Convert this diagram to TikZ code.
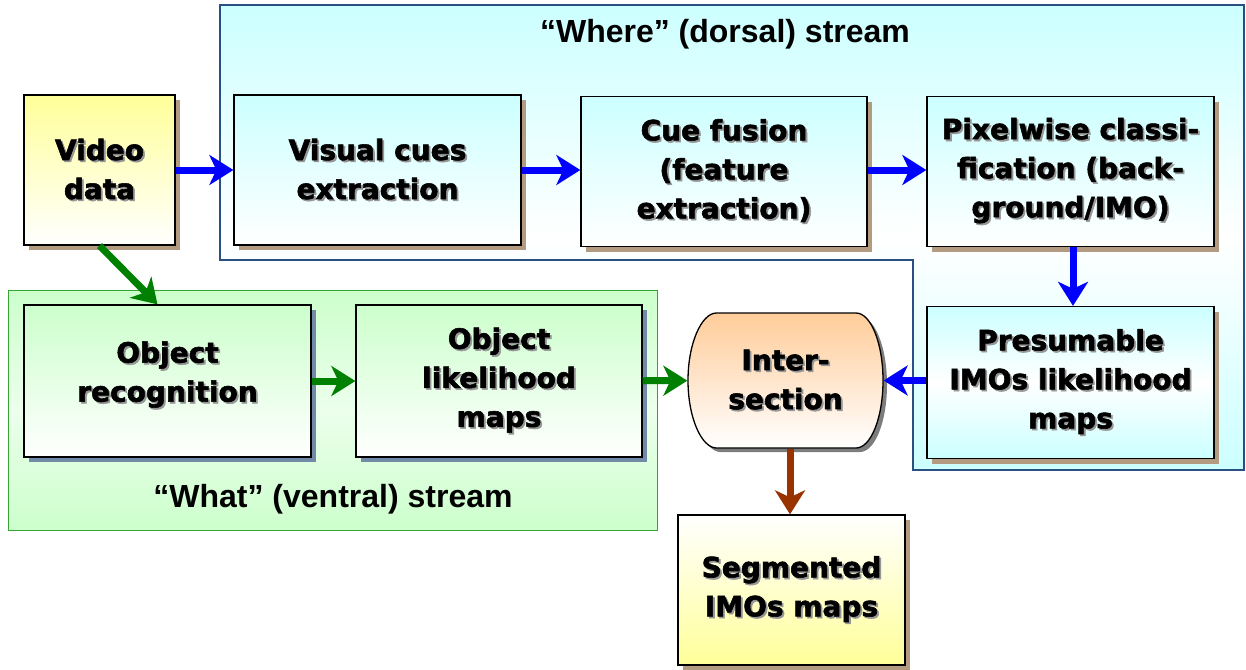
\documentclass[tikz,border=0pt]{standalone}
\usepackage{fontspec}
\usetikzlibrary{arrows.meta,shadows}
\newfontfamily\boxfont{DejaVu Sans}[BoldFeatures={FakeBold=2}]
\newfontfamily\labfont{Liberation Sans}

\definecolor{cyanT}{RGB}{204,255,255}
\definecolor{yellowT}{RGB}{255,255,153}
\definecolor{greenT}{RGB}{204,255,204}
\definecolor{greenM}{RGB}{236,255,236}
\definecolor{orangeT}{RGB}{255,204,153}
\definecolor{shtan}{RGB}{178,155,128}
\definecolor{shblue}{RGB}{112,138,168}
\definecolor{shgray}{RGB}{125,125,125}
\definecolor{txtshadow}{RGB}{150,150,150}
\definecolor{dorsalline}{RGB}{40,80,130}
\definecolor{ventralline}{RGB}{50,165,50}
\definecolor{flowblue}{RGB}{0,0,255}
\definecolor{flowgreen}{RGB}{0,128,0}
\definecolor{flowbrown}{RGB}{153,51,0}

% one line of box text with a soft grey copy behind it
\newcommand\sh[1]{\leavevmode\rlap{\kern1.8pt\raisebox{-1.8pt}{\textcolor{txtshadow}{#1}}}#1}

\tikzset{
  box/.style={draw=black, line width=1.3pt, minimum height=150pt,
    align=center, inner sep=0pt,
    font=\boxfont\bfseries\fontsize{28}{39}\selectfont},
  tanshadow/.style={drop shadow={shadow xshift=5pt, shadow yshift=-5pt,
    fill=shtan, opacity=1}},
  blueshadow/.style={drop shadow={shadow xshift=5pt, shadow yshift=-5pt,
    fill=shblue, opacity=1}},
  dorsalbox/.style={box, tanshadow, top color=cyanT, bottom color=white},
  stream/.style={font=\labfont\bfseries\fontsize{32}{38}\selectfont,
    inner sep=0pt, anchor=base},
  flow/.style={line width=7pt, -{Stealth[length=24pt,width=30pt,inset=7pt]}}
}

\begin{document}
\begin{tikzpicture}[x=1pt,y=-1pt]
\useasboundingbox (0,0) rectangle (1246,669);

% dorsal and ventral stream areas
\path[draw=dorsalline, line width=1.2pt,
      top color=cyanT, bottom color=cyanT, middle color=white]
  (220,5) -- (1244,5) -- (1244,470) -- (913,470) -- (913,260)
  -- (220,260) -- cycle;
\path[draw=ventralline, line width=1pt,
      top color=greenT, bottom color=greenT, middle color=greenM]
  (8,290) rectangle (657,530);

\node[stream] (wherelab) at (725,43) {“Where” (dorsal) stream};
\node[stream] (whatlab) at (333,507) {“What” (ventral) stream};

% processing blocks
\node[box, tanshadow, top color=yellowT, bottom color=white,
      minimum width=151pt] (video) at (99.5,170) {\sh{Video}\\\sh{data}};
\node[dorsalbox, minimum width=287pt] (cues) at (377.5,170)
  {\sh{Visual cues}\\\sh{extraction}};
\node[dorsalbox, minimum width=286pt] (fusion) at (724,171.5)
  {\sh{Cue fusion}\\\sh{(feature}\\\sh{extraction)}};
\node[dorsalbox, minimum width=287pt] (pixel) at (1070.5,171.5)
  {\sh{Pixelwise classi-}\\\sh{fication (back-}\\\sh{ground/IMO)}};
\node[box, tanshadow, top color=cyanT, bottom color=cyanT, middle color=white,
      minimum width=287pt, minimum height=152pt] (presum) at (1070.5,382.5)
  {\sh{Presumable}\\\sh{IMOs likelihood}\\\sh{maps}};

\node[box, blueshadow, top color=greenT, bottom color=white,
      minimum width=287pt, minimum height=152pt] (objrec) at (167.5,381)
  {\sh{Object}\\\sh{recognition}\\[-20pt]{}};
\node[box, blueshadow, top color=greenT, bottom color=white,
      minimum width=286pt, minimum height=152pt] (objlik) at (499,381)
  {\sh{Object}\\\sh{likelihood}\\\sh{maps}};

% intersection block: flat top and bottom, bulging sides
\path[fill=shgray, shift={(4,4)}]
  (716.5,313) -- (856,313)
  .. controls (870.9,313) and (883,343.2) .. (883,380.5)
  .. controls (883,417.8) and (870.9,448) .. (856,448)
  -- (716.5,448)
  .. controls (701.6,448) and (688,417.8) .. (688,380.5)
  .. controls (688,343.2) and (701.6,313) .. cycle;
\path[draw=black, line width=1.3pt, top color=orangeT, bottom color=white]
  (716.5,313) -- (856,313)
  .. controls (870.9,313) and (883,343.2) .. (883,380.5)
  .. controls (883,417.8) and (870.9,448) .. (856,448)
  -- (716.5,448)
  .. controls (701.6,448) and (688,417.8) .. (688,380.5)
  .. controls (688,343.2) and (701.6,313) .. cycle;
\node[box, draw=none, minimum width=195pt, minimum height=135pt]
  (inter) at (785.5,380.5) {\sh{Inter-}\\\sh{section}};

\node[box, tanshadow, top color=white, bottom color=yellowT,
      minimum width=227pt] (seg) at (791.5,590)
  {\sh{Segmented}\\\sh{IMOs maps}};

% data flow
\draw[flow, flowblue] (video) -- (cues);
\draw[flow, flowblue] (cues.east |- video.east) -- (fusion.west |- video.east);
\draw[flow, flowblue] (fusion.east |- video.east) -- (pixel.west |- video.east);
\draw[flow, flowblue] (pixel.south) ++(2.5,0) -- ([xshift=2.5pt]presum.north);
\draw[flow, flowblue] (presum.west |- inter.east) -- (inter.east);
\draw[flow, flowgreen] (video.south) -- ([xshift=-10pt]objrec.north);
\draw[flow, flowgreen] (objrec) -- (objlik);
\draw[flow, flowgreen] (objlik) -- (inter);
\draw[flow, flowbrown] (inter.south) ++(4.5,0) -- ([xshift=-1.5pt]seg.north);
\end{tikzpicture}
\end{document}
